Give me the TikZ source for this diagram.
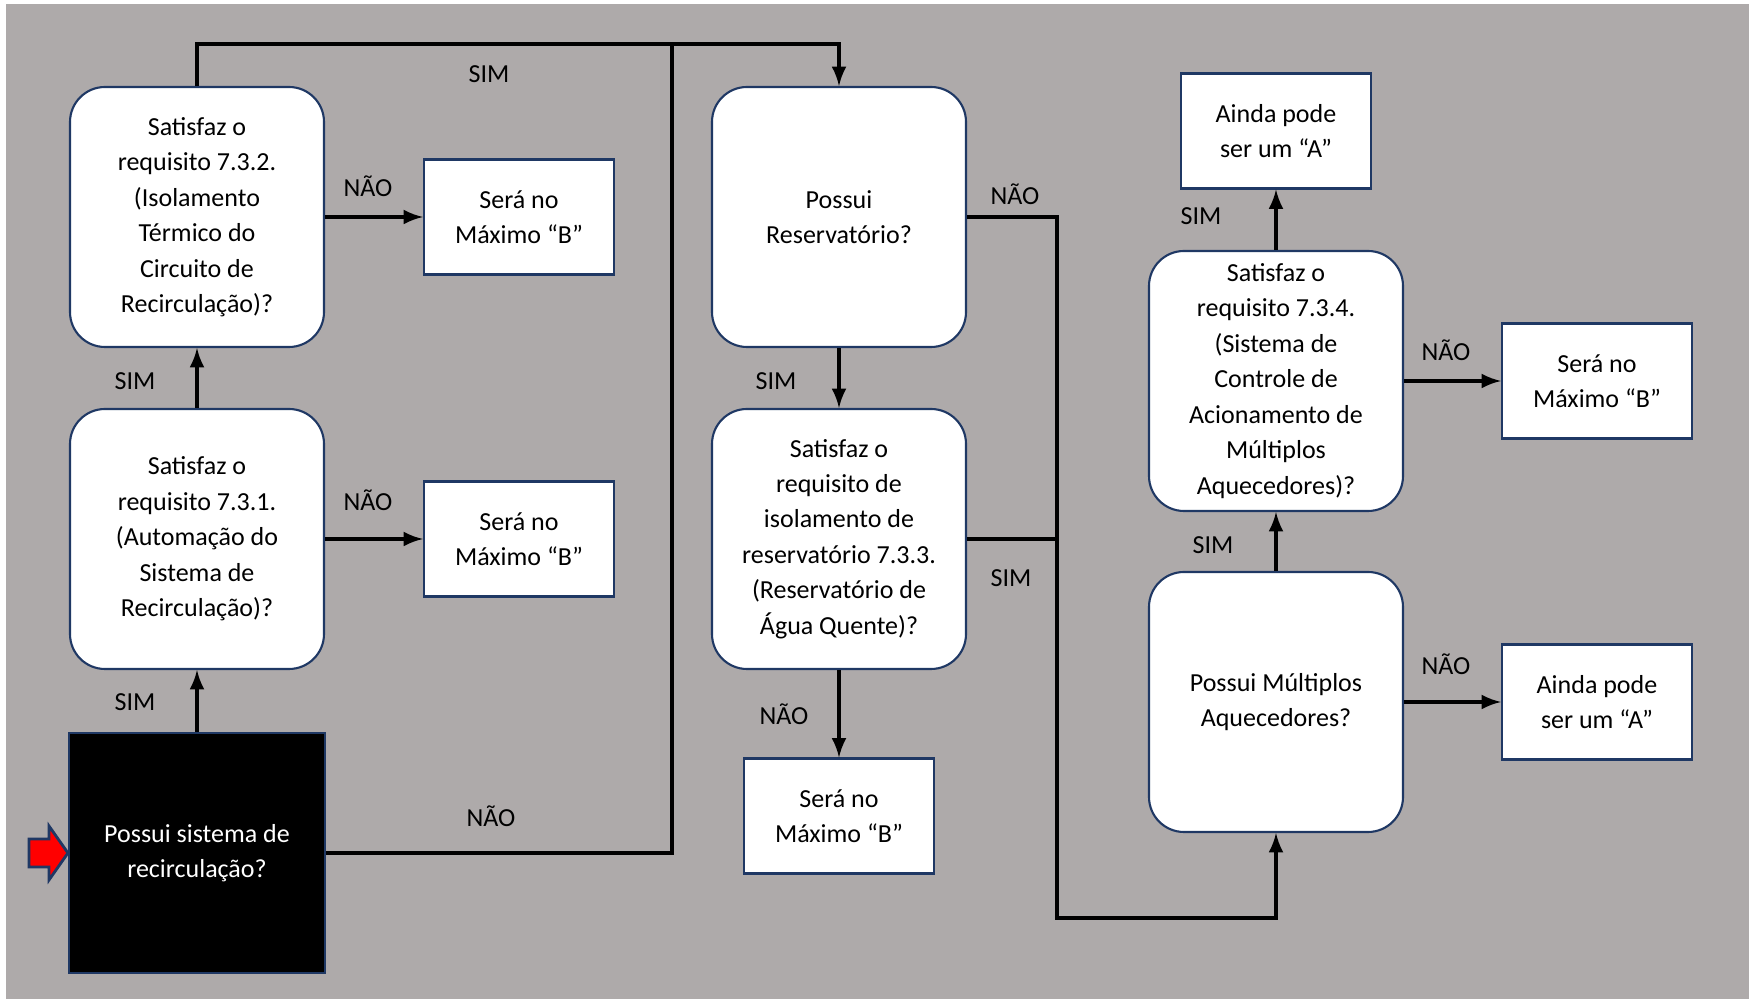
\documentclass[tikz,border=0pt]{standalone}
\usepackage{fontspec}
\setmainfont{Carlito}
\usepackage{xcolor}
\usetikzlibrary{calc}
\definecolor{bggray}{HTML}{AEAAAA}
\definecolor{boxblue}{HTML}{1F3864}
\tikzset{
    boxfont/.style={font=\fontsize{7.4}{10.1}\selectfont},
    decisionbox/.style={boxfont, draw=boxblue, line width=0.6pt, fill=white,
        rounded corners=0.35cm, minimum width=2.54cm, minimum height=2.6cm,
        align=center, inner sep=1pt},
    resultbox/.style={boxfont, draw=boxblue, line width=0.6pt, fill=white,
        minimum width=1.9cm, minimum height=1.15cm, align=center},
    startbox/.style={boxfont, draw=boxblue, line width=0.6pt, fill=black, text=white,
        minimum width=2.56cm, minimum height=2.4cm, align=center},
    flowlabel/.style={boxfont, inner sep=0pt},
    flowline/.style={line width=0.9pt}
}

\begin{document}
\begin{tikzpicture}
      \useasboundingbox (0,0) rectangle (17.55,9.99);
      \fill[bggray] (0.06,0) rectangle (17.49,9.95);

      % left column
      \node[startbox] (start) at (1.97,1.46) {Possui sistema de\\recirculação?};
      \node[decisionbox] (req731) at (1.97,4.60) {Satisfaz o\\requisito 7.3.1.\\(Automação do\\Sistema de\\Recirculação)?};
      \node[decisionbox] (req732) at (1.97,7.82) {Satisfaz o\\requisito 7.3.2.\\(Isolamento\\Térmico do\\Circuito de\\Recirculação)?};
      \node[resultbox] (maxb1) at (5.19,7.82) {Será no\\Máximo “B”};
      \node[resultbox] (maxb2) at (5.19,4.60) {Será no\\Máximo “B”};

      % middle column
      \node[decisionbox] (reserv) at (8.39,7.82) {Possui\\Reservatório?};
      \node[decisionbox] (req733) at (8.39,4.60) {Satisfaz o\\requisito de\\isolamento de\\reservatório 7.3.3.\\(Reservatório de\\Água Quente)?};
      \node[resultbox] (maxb3) at (8.39,1.83) {Será no\\Máximo “B”};

      % right column
      \node[resultbox] (aindaa1) at (12.76,8.68) {Ainda pode\\ser um “A”};
      \node[decisionbox] (req734) at (12.76,6.18) {Satisfaz o\\requisito 7.3.4.\\(Sistema de\\Controle de\\Acionamento de\\Múltiplos\\Aquecedores)?};
      \node[resultbox] (maxb4) at (15.97,6.18) {Será no\\Máximo “B”};
      \node[decisionbox] (multi) at (12.76,2.97) {Possui Múltiplos\\Aquecedores?};
      \node[resultbox] (aindaa2) at (15.97,2.97) {Ainda pode\\ser um “A”};

      \coordinate (jtop) at (8.39,9.55);
      \coordinate (jnao) at (6.72,9.55);
      \coordinate (jbot) at (10.57,0.81);

      % red entry arrow
      \draw[boxblue, fill=red, line width=0.8pt] (0.29,1.60) -- (0.49,1.60) -- (0.49,1.73)
        -- (start.west) -- (0.49,1.19) -- (0.49,1.32) -- (0.29,1.32) -- cycle;

      \draw[flowline,-latex] (start) -- (req731);
      \draw[flowline,-latex] (req731) -- (req732);
      \draw[flowline,-latex] (req732) -- (maxb1);
      \draw[flowline,-latex] (req731) -- (maxb2);
      \draw[flowline,-latex] (req732.north) |- (jtop) -- (reserv.north);
      \draw[flowline] (start.east) -| (jnao);
      \draw[flowline,-latex] (reserv) -- (req733);
      \draw[flowline,-latex] (req733) -- (maxb3);
      \draw[flowline,-latex] (reserv.east) -| (jbot) -| (multi.south);
      \draw[flowline] (req733.east) -- (req733.east -| jbot);
      \draw[flowline,-latex] (multi) -- (req734);
      \draw[flowline,-latex] (multi) -- (aindaa2);
      \draw[flowline,-latex] (req734) -- (aindaa1);
      \draw[flowline,-latex] (req734) -- (maxb4);

      % labels
      \node[flowlabel] (simtop) at (4.89,9.25) {SIM};
      \node[flowlabel] (naostart) at (4.91,1.83) {NÃO};
      \node[flowlabel] (nao732) at (3.68,8.13) {NÃO};
      \node[flowlabel] (nao731) at (3.68,4.99) {NÃO};
      \node[flowlabel] (sim731) at (1.35,6.18) {SIM};
      \node[flowlabel] (simstart) at (1.35,2.97) {SIM};
      \node[flowlabel] (simres) at (7.76,6.18) {SIM};
      \node[flowlabel] (naores) at (10.15,8.05) {NÃO};
      \node[flowlabel] (sim733) at (10.11,4.21) {SIM};
      \node[flowlabel] (nao733) at (7.84,2.85) {NÃO};
      \node[flowlabel] (simmulti) at (12.13,4.54) {SIM};
      \node[flowlabel] (naomulti) at (14.46,3.35) {NÃO};
      \node[flowlabel] (sim734) at (12.01,7.83) {SIM};
      \node[flowlabel] (nao734) at (14.46,6.49) {NÃO};
    \end{tikzpicture}
\end{document}
